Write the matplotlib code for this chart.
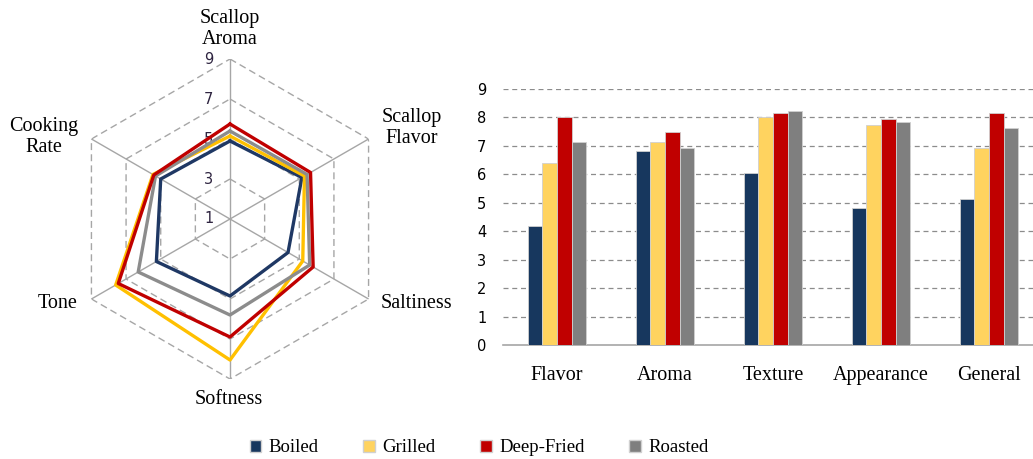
import numpy as np
import matplotlib
matplotlib.use("Agg")
import matplotlib.pyplot as plt
from matplotlib.patches import Patch

# ---- data ----
radar_axes = ["Scallop\nAroma", "Scallop\nFlavor", "Saltiness", "Softness", "Tone", "Cooking\nRate"]
series = ["Boiled", "Grilled", "Deep-Fried", "Roasted"]
radar_boiled = [4.9, 5.15, 4.35, 4.85, 5.25, 5.0]
radar_grilled = [5.15, 5.3, 5.2, 8.05, 7.6, 5.45]
radar_fried = [5.75, 5.65, 5.8, 6.9, 7.45, 5.4]
radar_roasted = [5.4, 5.45, 5.6, 5.8, 6.3, 5.3]
radar_ticks = [1, 3, 5, 7, 9]

bar_cats = ["Flavor", "Aroma", "Texture", "Appearance", "General"]
bar_boiled = [4.2, 6.83, 6.03, 4.8, 5.15]
bar_grilled = [6.4, 7.13, 8.0, 7.72, 6.93]
bar_fried = [8.0, 7.5, 8.15, 7.94, 8.15]
bar_roasted = [7.13, 6.92, 8.22, 7.84, 7.63]
bar_ticks = list(range(0, 10))

line_colors = ["#1F3864", "#FFC000", "#C00000", "#8C8C8C"]
bar_colors = ["#17375E", "#FFD35F", "#C00000", "#7F7F7F"]

serif = ["Liberation Serif", "DejaVu Serif"]
W, H = 1033, 459
fig = plt.figure(figsize=(W / 100, H / 100), dpi=100)

# ---- radar ----
cx, cy, R = 230, 219, 160
ax = fig.add_axes([(cx - R) / W, (H - cy - R) / H, 2 * R / W, 2 * R / H], projection="polar")
ax.set_theta_offset(np.pi / 2)
ax.set_theta_direction(-1)
n = len(radar_axes)
theta = np.linspace(0, 2 * np.pi, n, endpoint=False)
ax.set_ylim(1, 9)
ax.grid(False)
ax.spines["polar"].set_visible(False)
ax.set_xticks([])
ax.set_yticks([])
ax.patch.set_alpha(0)
th_closed = np.append(theta, theta[0])
for r in radar_ticks[1:]:
    ax.plot(th_closed, [r] * (n + 1), color="#A6A6A6", lw=1.0, ls=(0, (5, 3)), zorder=1)
for t in theta:
    ax.plot([t, t], [1, 9], color="#A6A6A6", lw=1.0, zorder=1)
for vals, c in zip([radar_boiled, radar_grilled, radar_roasted, radar_fried],
                   [line_colors[0], line_colors[1], line_colors[3], line_colors[2]]):
    ax.plot(th_closed, list(vals) + [vals[0]], color=c, lw=2.4, zorder=3)
for r in radar_ticks:
    ax.annotate(str(r), xy=(0, r), xytext=(-12, 0), textcoords="offset points",
                ha="right", va="center", fontsize=10.5, color="#2E2440", zorder=2)
label_pos = [(230, 29), (412, 128), (416, 303), (229, 400), (58, 303), (44, 137)]
for lab, (lx, ly) in zip(radar_axes, label_pos):
    fig.text(lx / W, (H - ly) / H, lab, ha="center", va="center", fontsize=14.5,
             family=serif, linespacing=1.1)

# ---- bars ----
left, right, y0, y9 = 503, 1033, 345, 89
bx = fig.add_axes([left / W, (H - y0) / H, (right - left) / W, (y0 - y9) / H])
x = np.arange(len(bar_cats))
bw = 0.136
for i, (vals, c) in enumerate(zip([bar_boiled, bar_grilled, bar_fried, bar_roasted], bar_colors)):
    bx.bar(x + (i - 1.5) * bw, vals, width=bw, color=c, edgecolor="#D0D0D0", linewidth=0.6, zorder=3)
bx.set_ylim(0, 9)
bx.set_xlim(-0.5, -0.5 + (right - left) / 108)
bx.set_yticks(bar_ticks)
bx.set_yticklabels([str(t) for t in bar_ticks], fontsize=10.5)
bx.set_xticks(x)
bx.set_xticklabels(bar_cats, fontsize=14.5, family=serif)
bx.tick_params(axis="x", length=0, pad=15)
bx.tick_params(axis="y", length=0, pad=12)
for s in ["top", "right", "left"]:
    bx.spines[s].set_visible(False)
bx.spines["bottom"].set_color("#A6A6A6")
bx.spines["bottom"].set_linewidth(1.2)
for t in bar_ticks[1:]:
    bx.axhline(t, color="#8C8C8C", lw=0.9, ls=(0, (4, 3)), zorder=1)
bx.patch.set_alpha(0)

# ---- legend ----
handles = [Patch(facecolor=c, edgecolor="#D0D0D0") for c in bar_colors]
fig.legend(handles, series, loc="center", bbox_to_anchor=(479 / W, (H - 448) / H), ncol=4,
           frameon=False, prop={"family": serif, "size": 13.5}, handlelength=0.6, handleheight=0.6,
           handletextpad=0.4, columnspacing=2.4)

fig.savefig("out.png", dpi=100)
